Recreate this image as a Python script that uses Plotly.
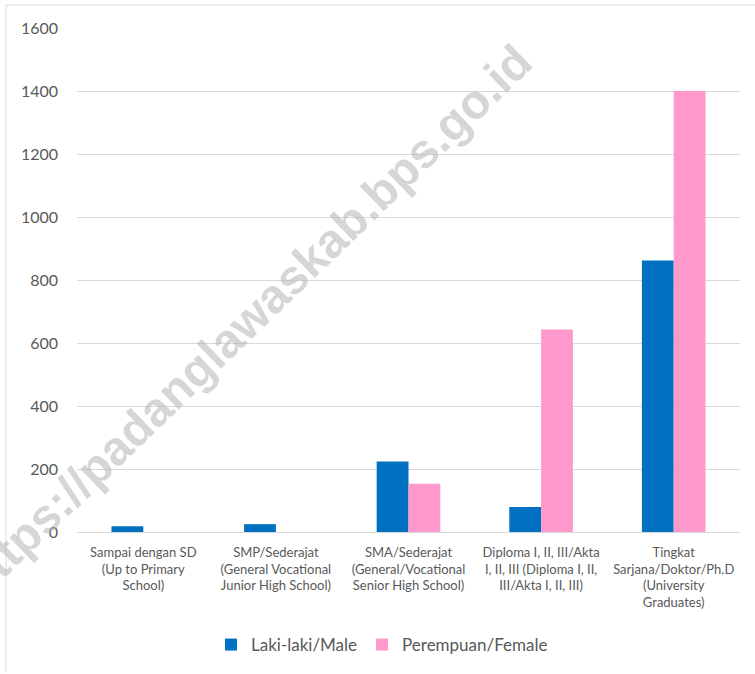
import plotly.graph_objects as go

categories = [
    "Sampai dengan SD<br>(Up to Primary<br>School)",
    "SMP/Sederajat<br>(General Vocational<br>Junior High School)",
    "SMA/Sederajat<br>(General/Vocational<br>Senior High School)",
    "Diploma I, II, III/Akta<br>I, II, III (Diploma I, II,<br>III/Akta I, II, III)",
    "Tingkat<br>Sarjana/Doktor/Ph.D<br>(University<br>Graduates)",
]
male = [18, 25, 224, 79, 862]
female = [0, 0, 153, 643, 1400]
series_names = ["Laki-laki/Male", "Perempuan/Female"]
y_ticks = [0, 200, 400, 600, 800, 1000, 1200, 1400, 1600]

FONT = "Lato, 'Open Sans', sans-serif"
W, H = 755, 674
L, R, T, B = 77, 15, 28, 141
PW, PH = W - L - R, H - T - B

fig = go.Figure()
fig.add_trace(go.Bar(x=categories, y=male, name=series_names[0],
                     marker=dict(color="#0070C0", line=dict(width=0))))
fig.add_trace(go.Bar(x=categories, y=female, name=series_names[1],
                     marker=dict(color="#FF99CC", line=dict(width=0))))

fig.update_layout(
    width=W, height=H,
    margin=dict(l=L, r=R, t=T, b=B),
    paper_bgcolor="white", plot_bgcolor="white",
    barmode="group", bargap=0.52, bargroupgap=0,
    font=dict(family=FONT, color="#595959"),
    showlegend=True,
    legend=dict(orientation="h", x=(382 - L) / PW, xanchor="center",
                y=-(645 - (T + PH)) / PH, yanchor="middle",
                font=dict(size=17, color="#595959"), traceorder="normal"),
    xaxis=dict(showgrid=False, showline=True, linecolor="#d9d9d9", linewidth=1,
               ticks="", tickfont=dict(size=13, color="#595959"),
               ticklabelstandoff=8, fixedrange=True),
    yaxis=dict(range=[0, 1600], tickvals=y_ticks, showgrid=True, gridcolor="#d9d9d9",
               gridwidth=1, zeroline=False, showline=False, ticks="",
               tickfont=dict(size=16, color="#595959"), ticklabelstandoff=18,
               fixedrange=True),
)

# chart area border (only left and top visible in the crop)
fig.add_shape(type="line", xref="paper", yref="paper",
              x0=(6 - L) / PW, x1=(6 - L) / PW, y0=-(H - T - PH) / PH, y1=(T + PH - 5) / PH,
              line=dict(color="#d9d9d9", width=1), layer="below")
fig.add_shape(type="line", xref="paper", yref="paper",
              x0=(6 - L) / PW, x1=(W - L) / PW, y0=(T + PH - 5) / PH, y1=(T + PH - 5) / PH,
              line=dict(color="#d9d9d9", width=1), layer="below")

# watermark
fig.add_annotation(text="<b>https://padanglawaskab.bps.go.id</b>", xref="paper", yref="paper",
                   x=(246 - L) / PW, y=(T + PH - 322) / PH, xanchor="center", yanchor="middle",
                   showarrow=False, textangle=-44,
                   font=dict(size=48, family="'Liberation Sans', Arial, sans-serif",
                             color="rgba(180,180,180,0.55)"))

fig.write_html("out.html", post_script="document.body.style.margin='0px';",
               config={"displayModeBar": False})
